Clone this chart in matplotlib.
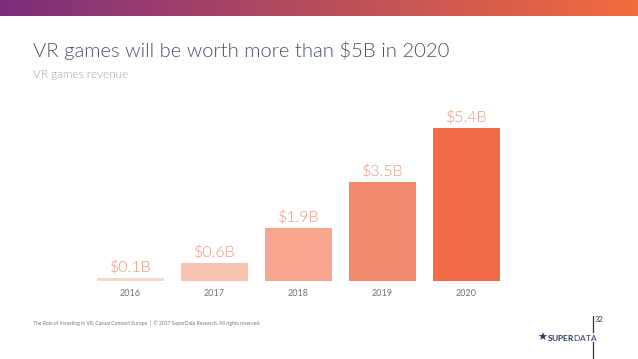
import numpy as np
import matplotlib
matplotlib.use("Agg")
import matplotlib.pyplot as plt

years = ["2016", "2017", "2018", "2019", "2020"]
revenue = [0.1, 0.64, 1.87, 3.5, 5.4]
labels = ["$0.1B", "$0.6B", "$1.9B", "$3.5B", "$5.4B"]
bar_colors = ["#fad6ca", "#f9c3b1", "#f6a68e", "#f38a6d", "#f26b47"]

plt.rcParams["mathtext.fontset"] = "custom"
plt.rcParams["mathtext.rm"] = "Lato"
plt.rcParams["mathtext.bf"] = "Lato:bold"

W, H = 638, 359
fig = plt.figure(figsize=(W / 100, H / 100), dpi=100)
fig.patch.set_facecolor("white")

# gradient strip at the top
grad = fig.add_axes([0, 1 - 16 / H, 1, 16 / H])
g = np.linspace(0, 1, 256)
c0 = np.array([0x7c, 0x2e, 0x7b]) / 255
c1 = np.array([0xf2, 0x6c, 0x3e]) / 255
img = (c0[None, :] * (1 - g[:, None]) + c1[None, :] * g[:, None])[None, :, :]
grad.imshow(img, aspect="auto", extent=[0, 1, 0, 1])
grad.axis("off")

fig.text(33 / W, 1 - 57 / H, "VR games will be worth more than $5B in 2020",
         fontsize=14.6, family="Lato", weight=300, color="#48526f", va="baseline")
fig.text(33 / W, 1 - 75 / H, "VR games revenue",
         fontsize=8.5, family="Lato", weight=300, color="#a0a0a0", va="center")

# bar chart
px_per_unit = 28.3
ax_h = 190
ax = fig.add_axes([88.5 / W, 78 / H, 420 / W, ax_h / H])
x = np.arange(len(years))
ax.bar(x, revenue, width=0.79, color=bar_colors)
ax.set_xlim(-0.5, 4.5)
ax.set_ylim(0, ax_h / px_per_unit)
ax.axis("off")
for xi, v, lab in zip(x, revenue, labels):
    ax.annotate(lab, (xi, v), xytext=(0, 2), textcoords="offset points",
                ha="center", va="bottom", fontsize=11.5, family="Lato",
                weight=300, color="#e8987c")
    ax.annotate(years[xi], (xi, 0), xytext=(0, -9), textcoords="offset points",
                ha="center", va="center", fontsize=6.5, family="Lato",
                color="#707070")

# footer
fig.text(33 / W, 1 - 323 / H,
         "The Role of Investing in VR, Casual Connect Europe  |  \u00a9 2017 SuperData Research. All rights reserved.",
         fontsize=3.6, family="Lato", color="#777777", va="center")
navy = "#2c3560"
fig.add_artist(plt.Line2D([593 / W, 593 / W], [1 - 316 / H, 1 - 332 / H], color=navy, lw=0.9))
fig.add_artist(plt.Line2D([593 / W, 593 / W], [1 - 342 / H, 1 - 359 / H], color=navy, lw=0.9))
fig.text(595 / W, 1 - 320 / H, "32", fontsize=5.5, family="Lato", color=navy, va="center")
fig.text(537 / W, 1 - 338 / H, "\u2605", fontsize=8, family="DejaVu Sans", color=navy, va="center")
fig.text(547 / W, 1 - 338 / H, r"$\mathbf{SUPER}\mathrm{DATA}$", fontsize=6,
         color=navy, va="center")

fig.savefig("out.png", dpi=100)
